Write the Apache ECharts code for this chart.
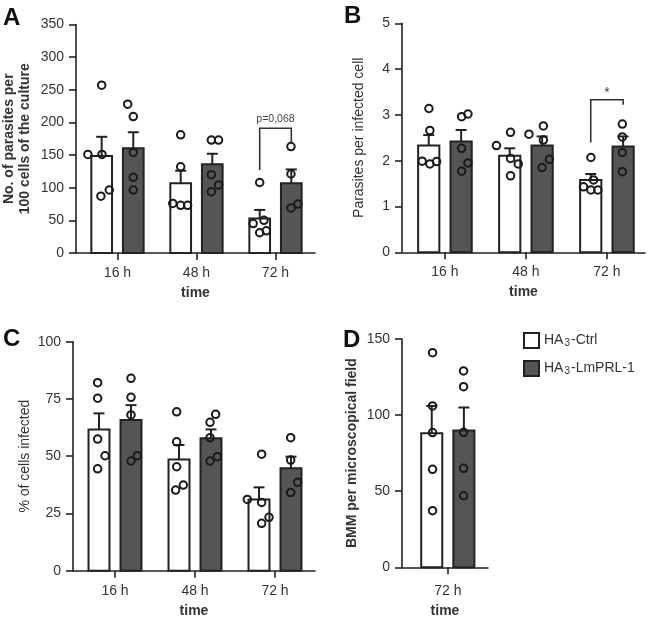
<!DOCTYPE html>
<html>
<head>
<meta charset="utf-8">
<script src="https://cdn.jsdelivr.net/npm/echarts@6/dist/echarts.min.js"></script>
<style>html,body{margin:0;padding:0;background:#fff}#c{width:651px;height:620px}</style>
</head>
<body>
<div id="c"></div>
<script>
// ---------- data ----------
const categories = ['16 h', '48 h', '72 h'];
const categoriesD = ['72 h'];
const seriesNames = ['HA3-Ctrl', 'HA3-LmPRL-1'];

// Panel A: No. of parasites per 100 cells
const aCtrlMean = [148.7, 107, 53];
const aCtrlSem = [29.3, 19, 13];
const aLmMean = [160.5, 136, 107];
const aLmSem = [24.5, 16, 21];
const aCtrlPts = [[151, 151, 257, 87, 96.5], [181, 132, 76, 73, 73], [108, 45, 50, 31, 34]];
const aCtrlJit = [[-0.375, -0.196, -0.2, -0.21, -0.104], [-0.2, -0.2, -0.3, -0.2, -0.113], [-0.2, -0.283, -0.146, -0.2, -0.117]];
const aLmPts = [[228, 209, 154, 116, 96.5], [173, 173, 120, 94, 104], [163, 121, 69, 75]];
const aLmJit = [[0.129, 0.2, 0.2, 0.2, 0.2], [0.188, 0.279, 0.188, 0.188, 0.279], [0.196, 0.196, 0.196, 0.283]];
const aBracket = [[1.8, 2.2, 191, 127, 170]];
const aBracketLabel = 'p=0,068';

// Panel B: parasites per infected cell
const bCtrlMean = [2.33, 2.11, 1.58];
const bCtrlSem = [0.23, 0.16, 0.13];
const bLmMean = [2.42, 2.33, 2.31];
const bLmSem = [0.25, 0.20, 0.22];
const bCtrlPts = [[3.14, 2.66, 1.99, 1.93, 1.98], [2.33, 2.62, 2.05, 1.93, 1.67], [2.07, 1.43, 1.58, 1.36, 1.36]];
const bCtrlJit = [[-0.198, -0.186, -0.281, -0.186, -0.103], [-0.364, -0.19, -0.19, -0.095, -0.19], [-0.198, -0.289, -0.165, -0.198, -0.112]];
const bLmPts = [[2.96, 3.02, 2.27, 1.95, 1.77], [2.58, 2.76, 2.45, 1.85, 2.03], [2.8, 2.52, 2.18, 1.76]];
const bLmJit = [[0.206, 0.284, 0.206, 0.284, 0.206], [0.037, 0.215, 0.215, 0.2, 0.289], [0.19, 0.19, 0.19, 0.19]];
const bBracket = [[1.8, 2.2, 3.33, 2.40, 3.22]];
const bBracketLabel = '*';

// Panel C: % of cells infected
const cCtrlMean = [61.7, 48.6, 31.1];
const cCtrlSem = [7.0, 6.3, 5.3];
const cLmMean = [65.8, 57.8, 44.7];
const cLmSem = [6.5, 3.9, 5.1];
const cCtrlPts = [[82.1, 75.3, 57.5, 50.2, 44.5], [69.4, 56.3, 45.4, 35.2, 37.4], [50.9, 31.1, 29.8, 20.7, 23.3]];
const cCtrlJit = [[-0.217, -0.217, -0.217, -0.125, -0.217], [-0.229, -0.229, -0.229, -0.242, -0.146], [-0.167, -0.346, -0.167, -0.167, -0.075]];
const cLmPts = [[84, 75.7, 68, 47.9, 50.2], [68.3, 64.8, 58.1, 47.9, 49.8], [58.1, 48.3, 34.1, 38.6]];
const cLmJit = [[0.2, 0.2, 0.2, 0.2, 0.279], [0.258, 0.188, 0.188, 0.188, 0.279], [0.196, 0.196, 0.196, 0.283]];

// Panel D: BMM per microscopical field
const dCtrlMean = [88];
const dCtrlSem = [18];
const dLmMean = [89.8];
const dLmSem = [15.2];
const dCtrlPts = [[141, 106, 88.5, 64.4, 37.2]];
const dCtrlJit = [[-0.19, -0.19, -0.19, -0.19, -0.19]];
const dLmPts = [[129, 118.7, 88.7, 65, 47]];
const dLmJit = [[0.196, 0.196, 0.196, 0.196, 0.196]];

// ---------- style ----------
const FONT = '"Liberation Sans", Arial, Helvetica, sans-serif';
const TXT = '#333';
const LINE = '#222';
const DARK = '#555';
const BAR_OFF = 0.2;
const BAR_W = 0.262;

const grids = [
  { left: 73, top: 24.5, width: 242, height: 228.5 },
  { left: 402, top: 23.3, width: 243, height: 229 },
  { left: 73, top: 341.7, width: 242, height: 229 },
  { left: 402, top: 339, width: 86, height: 228.3 }
];

const xRanges = [[-0.525, 2.5], [-0.53, 2.47], [-0.525, 2.5], [-0.57, 0.5]];
const yRanges = [[0, 350, 50], [0, 5, 1], [0, 100, 25], [0, 150, 50]];
const yNames = [
  'No. of parasites per\n100 cells of the culture',
  'Parasites per infected cell',
  '% of cells infected',
  'BMM per microscopical field'
];
const yNameBold = [true, false, false, true];
const yNameGaps = [43, 35, 40, 42];
const xLabelMargins = [13, 13, 13, 17];
const xNameGaps = [33, 33, 33, 37];
const catSets = [categories, categories, categories, categoriesD];

const xAxes = grids.map((g, i) => {
  const cats = catSets[i];
  const vals = cats.map((c, k) => k);
  return {
    type: 'value', gridIndex: i, min: xRanges[i][0], max: xRanges[i][1],
    splitLine: { show: false },
    axisLine: { show: true, onZero: true, lineStyle: { color: LINE, width: 1.6 } },
    axisTick: { show: true, length: 7, customValues: vals, lineStyle: { color: LINE, width: 1.6 } },
    axisLabel: { show: true, customValues: vals, margin: xLabelMargins[i], color: TXT, fontSize: 14, fontFamily: FONT,
      formatter: v => cats[Math.round(v)] },
    name: 'time', nameLocation: 'middle', nameGap: xNameGaps[i],
    nameTextStyle: { color: TXT, fontSize: 14, fontWeight: 'bold', fontFamily: FONT }
  };
});

const yAxes = grids.map((g, i) => ({
  type: 'value', gridIndex: i, min: yRanges[i][0], max: yRanges[i][1], interval: yRanges[i][2],
  splitLine: { show: false },
  axisLine: { show: true, onZero: false, lineStyle: { color: LINE, width: 1.6 } },
  axisTick: { show: true, length: 7, lineStyle: { color: LINE, width: 1.6 } },
  axisLabel: { margin: 12, color: TXT, fontSize: 14, fontFamily: FONT },
  name: yNames[i], nameLocation: 'middle', nameGap: yNameGaps[i], nameRotate: 90,
  nameTextStyle: { color: TXT, fontSize: 14, fontWeight: yNameBold[i] ? 'bold' : 'normal',
    fontFamily: FONT, lineHeight: 16 }
}));

function barSeries(gi, name, means, offset, fill) {
  return {
    type: 'custom', name: name, xAxisIndex: gi, yAxisIndex: gi, z: 2,
    data: means.map((m, k) => [k + offset, m]),
    renderItem: (params, api) => {
      const x = api.value(0), y = api.value(1);
      const p0 = api.coord([x - BAR_W / 2, y]);
      const p1 = api.coord([x + BAR_W / 2, 0]);
      return { type: 'rect', shape: { x: p0[0], y: p0[1], width: p1[0] - p0[0], height: p1[1] - p0[1] },
        style: { fill: fill, stroke: LINE, lineWidth: 2 } };
    }
  };
}

function errSeries(gi, name, means, sems, offset) {
  return {
    type: 'custom', name: name, xAxisIndex: gi, yAxisIndex: gi, z: 3, silent: true,
    data: means.map((m, k) => [k + offset, m, m + sems[k]]),
    renderItem: (params, api) => {
      const x = api.value(0);
      const a = api.coord([x, api.value(1)]);
      const b = api.coord([x, api.value(2)]);
      return { type: 'group', children: [
        { type: 'line', shape: { x1: a[0], y1: a[1], x2: b[0], y2: b[1] }, style: { stroke: LINE, lineWidth: 2 } },
        { type: 'line', shape: { x1: b[0] - 5.5, y1: b[1], x2: b[0] + 5.5, y2: b[1] }, style: { stroke: LINE, lineWidth: 2 } }
      ] };
    }
  };
}

function dotSeries(gi, name, pts, jit) {
  const data = [];
  pts.forEach((arr, k) => arr.forEach((v, j) => data.push([k + jit[k][j], v])));
  return {
    type: 'scatter', name: name, xAxisIndex: gi, yAxisIndex: gi, z: 4,
    symbol: 'circle', symbolSize: 7.5,
    itemStyle: { color: 'rgba(0,0,0,0)', borderColor: '#1a1a1a', borderWidth: 2, opacity: 1 },
    data: data
  };
}

function bracketSeries(gi, data, label, labelSize, labelGap) {
  return {
    type: 'custom', xAxisIndex: gi, yAxisIndex: gi, z: 5, silent: true,
    data: data,
    renderItem: (params, api) => {
      const l = api.coord([api.value(0), api.value(3)]);
      const tl = api.coord([api.value(0), api.value(2)]);
      const tr = api.coord([api.value(1), api.value(2)]);
      const r = api.coord([api.value(1), api.value(4)]);
      return { type: 'group', children: [
        { type: 'polyline', shape: { points: [l, tl, tr, r] }, style: { stroke: '#333', lineWidth: 1.6, fill: null } },
        { type: 'text', x: (tl[0] + tr[0]) / 2, y: tl[1] - labelGap,
          style: { text: label, fill: '#444', fontSize: labelSize, fontFamily: FONT, align: 'center', verticalAlign: 'bottom' } }
      ] };
    }
  };
}

const panels = [
  [aCtrlMean, aCtrlSem, aLmMean, aLmSem, aCtrlPts, aCtrlJit, aLmPts, aLmJit],
  [bCtrlMean, bCtrlSem, bLmMean, bLmSem, bCtrlPts, bCtrlJit, bLmPts, bLmJit],
  [cCtrlMean, cCtrlSem, cLmMean, cLmSem, cCtrlPts, cCtrlJit, cLmPts, cLmJit],
  [dCtrlMean, dCtrlSem, dLmMean, dLmSem, dCtrlPts, dCtrlJit, dLmPts, dLmJit]
];

const series = [];
panels.forEach((p, gi) => {
  series.push(barSeries(gi, seriesNames[0], p[0], -BAR_OFF, '#ffffff'));
  series.push(barSeries(gi, seriesNames[1], p[2], BAR_OFF, DARK));
  series.push(errSeries(gi, seriesNames[0], p[0], p[1], -BAR_OFF));
  series.push(errSeries(gi, seriesNames[1], p[2], p[3], BAR_OFF));
  series.push(dotSeries(gi, seriesNames[0], p[4], p[5]));
  series.push(dotSeries(gi, seriesNames[1], p[6], p[7]));
});
series.push(bracketSeries(0, aBracket, aBracketLabel, 10.5, 4));
series.push(bracketSeries(1, bBracket, bBracketLabel, 14, 0));

const letters = [['A', 3, 6], ['B', 344, 4], ['C', 3, 327], ['D', 343, 328]];

const option = {
  backgroundColor: '#fff',
  animation: false,
  title: letters.map(l => ({ text: l[0], left: l[1], top: l[2], padding: 0,
    textStyle: { fontSize: 24, fontWeight: 'bold', color: '#111', fontFamily: FONT } })),
  legend: {
    orient: 'vertical', left: 523, top: 332, padding: 0, itemWidth: 15, itemHeight: 15, itemGap: 11,
    selectedMode: false,
    data: [
      { name: seriesNames[0], icon: 'rect', itemStyle: { color: '#fff', borderColor: LINE, borderWidth: 2 } },
      { name: seriesNames[1], icon: 'rect', itemStyle: { color: DARK, borderColor: LINE, borderWidth: 2 } }
    ],
    formatter: n => n === seriesNames[0] ? '{n|HA}{s|3}{n|-Ctrl}' : '{n|HA}{s|3}{n|-LmPRL-1}',
    textStyle: { color: TXT, fontSize: 14, fontFamily: FONT,
      rich: { n: { fontSize: 14, color: TXT, fontFamily: FONT },
              s: { fontSize: 10, color: TXT, fontFamily: FONT, padding: [6, 1, 0, 1] } } }
  },
  grid: grids,
  xAxis: xAxes,
  yAxis: yAxes,
  series: series
};

const chart = echarts.init(document.getElementById('c'), null, { renderer: 'canvas' });
chart.setOption(option);
</script>
</body>
</html>
